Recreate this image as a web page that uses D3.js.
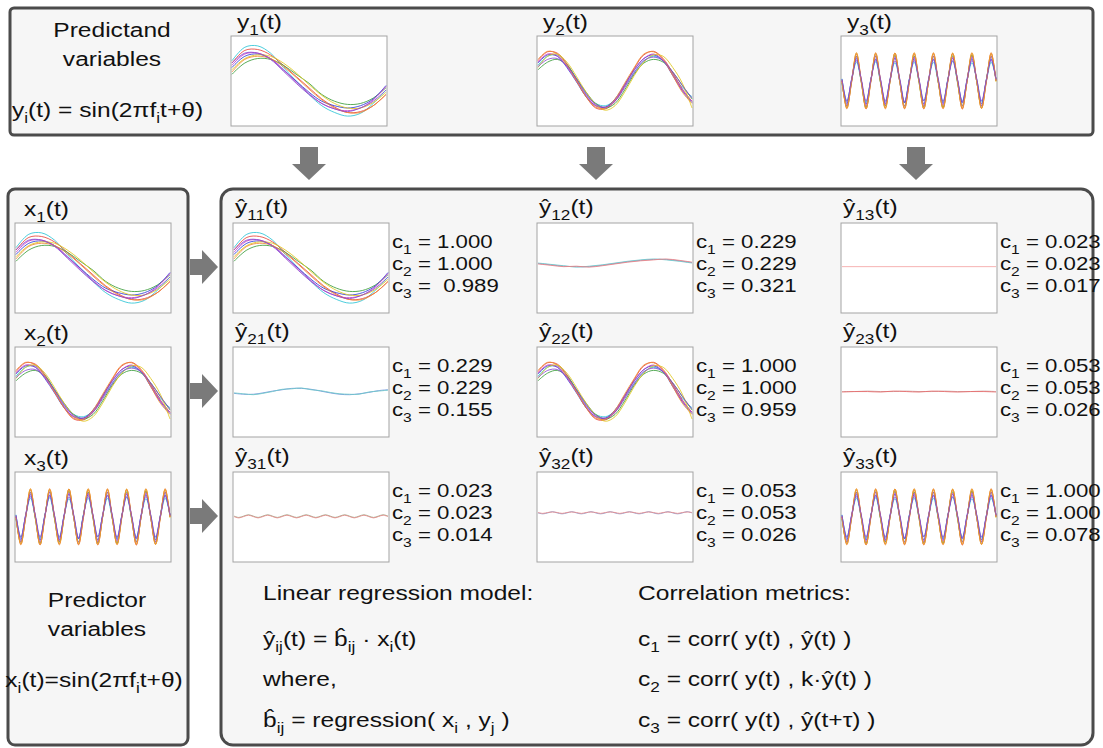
<!DOCTYPE html>
<html>
<head>
<meta charset="utf-8">
<script src="https://cdn.jsdelivr.net/npm/d3@7"></script>
<style>
  body { margin: 0; background: #fff; }
  svg { display: block; font-family: 'Liberation Sans', Arial, sans-serif; }
</style>
</head>
<body>
<svg id="chart" width="1103" height="748"></svg>
<script>
// Signal values (normalised units, one array per series)
const SERIES_COLORS = ['#2ec4d6', '#e8453c', '#3c9e3c', '#2f3fd8', '#c83cc8', '#e0c81e', '#f08a32', '#8a4ad0'];

// slow wave: y1 / x1 / y11
const SIG1 = [
  [0.45, 0.75, 0.78, 0.62, 0.30, 0.00, -0.30, -0.55, -0.70, -0.78, -0.72, -0.50, -0.20],
  [0.40, 0.68, 0.70, 0.58, 0.35, 0.10, -0.15, -0.40, -0.58, -0.70, -0.68, -0.55, -0.30],
  [0.15, 0.40, 0.50, 0.48, 0.35, 0.15, -0.05, -0.30, -0.45, -0.52, -0.50, -0.38, -0.15],
  [0.30, 0.55, 0.60, 0.50, 0.25, 0.00, -0.25, -0.45, -0.55, -0.60, -0.55, -0.40, -0.10],
  [0.35, 0.60, 0.62, 0.50, 0.25, -0.02, -0.28, -0.50, -0.62, -0.66, -0.60, -0.42, -0.12],
  [0.25, 0.50, 0.58, 0.55, 0.40, 0.18, -0.08, -0.32, -0.50, -0.60, -0.60, -0.48, -0.25],
  [0.20, 0.48, 0.55, 0.50, 0.32, 0.08, -0.18, -0.42, -0.60, -0.70, -0.70, -0.55, -0.30],
  [0.40, 0.62, 0.62, 0.48, 0.22, -0.05, -0.30, -0.50, -0.62, -0.68, -0.60, -0.45, -0.20]
];

// medium wave: y2 / x2 / y22
const SIG2 = [
  [0.35, 0.55, 0.58, 0.38, 0.05, -0.30, -0.50, -0.55, -0.42, -0.12, 0.20, 0.45, 0.55, 0.45, 0.15, -0.15, -0.35],
  [0.45, 0.65, 0.62, 0.38, 0.02, -0.35, -0.60, -0.62, -0.45, -0.10, 0.28, 0.58, 0.66, 0.50, 0.18, -0.18, -0.45],
  [0.25, 0.42, 0.48, 0.35, 0.05, -0.25, -0.50, -0.60, -0.50, -0.20, 0.15, 0.40, 0.48, 0.42, 0.20, -0.10, -0.40],
  [0.40, 0.58, 0.55, 0.30, -0.02, -0.35, -0.55, -0.58, -0.40, -0.08, 0.25, 0.50, 0.58, 0.45, 0.12, -0.22, -0.48],
  [0.42, 0.60, 0.56, 0.32, 0.00, -0.32, -0.55, -0.60, -0.42, -0.10, 0.24, 0.50, 0.60, 0.46, 0.14, -0.20, -0.45],
  [0.30, 0.55, 0.60, 0.42, 0.10, -0.25, -0.52, -0.65, -0.55, -0.25, 0.12, 0.42, 0.58, 0.55, 0.30, -0.05, -0.60],
  [0.48, 0.66, 0.60, 0.35, 0.00, -0.35, -0.58, -0.60, -0.40, -0.05, 0.30, 0.60, 0.65, 0.48, 0.12, -0.25, -0.50],
  [0.32, 0.48, 0.50, 0.33, 0.05, -0.28, -0.52, -0.58, -0.45, -0.15, 0.18, 0.45, 0.53, 0.45, 0.20, -0.10, -0.38]
];

// fast wave: y3 / x3 / y33
const SIG3 = [
  [0.05, -0.45, 0.02, 0.42, 0.00, -0.47, 0.04, 0.43, -0.02, -0.45, 0.03, 0.41, 0.01, -0.48, 0.05, 0.42, 0.00, -0.44, 0.02, 0.42, -0.03, -0.46, 0.04, 0.44, 0.00, -0.45, 0.02, 0.41, 0.03, -0.47, 0.00, 0.42, 0.05],
  [0.00, -0.60, -0.03, 0.60, 0.02, -0.62, 0.00, 0.61, -0.02, -0.59, 0.03, 0.62, 0.00, -0.61, -0.02, 0.60, 0.01, -0.62, 0.00, 0.61, -0.03, -0.60, 0.02, 0.61, 0.00, -0.62, 0.01, 0.59, -0.02, -0.60, 0.00, 0.61, 0.02],
  [-0.04, -0.56, 0.00, 0.55, -0.03, -0.58, 0.02, 0.56, -0.04, -0.55, 0.00, 0.57, -0.02, -0.56, 0.03, 0.55, -0.03, -0.57, 0.00, 0.55, -0.02, -0.58, 0.02, 0.56, -0.04, -0.55, 0.00, 0.57, -0.02, -0.56, 0.03, 0.55, 0.00],
  [0.03, -0.50, 0.05, 0.50, 0.02, -0.51, 0.04, 0.49, 0.03, -0.50, 0.05, 0.51, 0.02, -0.49, 0.04, 0.50, 0.03, -0.51, 0.05, 0.49, 0.02, -0.50, 0.04, 0.51, 0.03, -0.49, 0.05, 0.50, 0.02, -0.51, 0.04, 0.49, 0.03],
  [0.00, -0.55, 0.02, 0.54, -0.01, -0.55, 0.02, 0.55, 0.00, -0.53, 0.01, 0.54, -0.02, -0.56, 0.02, 0.53, 0.00, -0.55, 0.01, 0.55, -0.01, -0.54, 0.02, 0.53, 0.00, -0.56, 0.01, 0.54, -0.02, -0.55, 0.02, 0.55, 0.00],
  [-0.02, -0.60, 0.00, 0.62, -0.02, -0.61, 0.01, 0.61, -0.03, -0.60, 0.00, 0.62, -0.02, -0.59, 0.01, 0.62, -0.02, -0.61, 0.00, 0.61, -0.03, -0.60, 0.01, 0.62, -0.02, -0.59, 0.00, 0.62, -0.02, -0.61, 0.01, 0.61, -0.02],
  [0.02, -0.62, 0.00, 0.63, 0.01, -0.61, -0.02, 0.63, 0.02, -0.62, 0.00, 0.62, 0.01, -0.62, -0.02, 0.63, 0.02, -0.61, 0.00, 0.63, 0.01, -0.62, -0.02, 0.62, 0.02, -0.62, 0.00, 0.63, 0.01, -0.61, -0.02, 0.63, 0.00],
  [0.04, -0.45, 0.03, 0.46, 0.05, -0.44, 0.02, 0.47, 0.04, -0.45, 0.03, 0.45, 0.05, -0.46, 0.02, 0.46, 0.04, -0.44, 0.03, 0.47, 0.05, -0.45, 0.02, 0.45, 0.04, -0.46, 0.03, 0.46, 0.05, -0.44, 0.02, 0.47, 0.04]
];

// nearly flat cross predictions
const Y12 = [
  [0.10, 0.07, 0.04, 0.03, 0.03, 0.06, 0.10, 0.14, 0.17, 0.19, 0.19, 0.16, 0.12],
  [0.11, 0.08, 0.05, 0.02, 0.04, 0.07, 0.11, 0.15, 0.18, 0.20, 0.18, 0.15, 0.11],
  [0.09, 0.06, 0.03, 0.04, 0.02, 0.05, 0.09, 0.13, 0.16, 0.18, 0.20, 0.17, 0.13]
];
const Y13 = [[0.03, 0.03]];
const Y21 = [
  [-0.03, -0.05, -0.05, -0.02, 0.02, 0.05, 0.08, 0.08, 0.06, 0.02, -0.02, -0.05, -0.06, -0.04, -0.01, 0.03, 0.05],
  [-0.02, -0.04, -0.06, -0.03, 0.01, 0.06, 0.07, 0.09, 0.05, 0.03, -0.01, -0.04, -0.05, -0.05, 0.00, 0.02, 0.04]
];
const Y23 = [
  [0.01, 0.01, 0.02, 0.01, 0.01, 0.02, 0.01, 0.01, 0.02, 0.01, 0.01, 0.02, 0.01],
  [0.00, 0.01, 0.01, 0.00, 0.02, 0.01, 0.00, 0.02, 0.01, 0.00, 0.01, 0.01, 0.00]
];
const Y31 = [
  [0.02, -0.01, 0.02, 0.05, 0.02, -0.01, 0.02, 0.05, 0.02, -0.01, 0.02, 0.05, 0.02, -0.01, 0.02, 0.05, 0.02, -0.01, 0.02, 0.05, 0.02, -0.01, 0.02, 0.05, 0.02, -0.01, 0.02, 0.05, 0.02, -0.01, 0.02, 0.05, 0.02],
  [0.01, -0.02, 0.01, 0.04, 0.01, -0.02, 0.01, 0.04, 0.01, -0.02, 0.01, 0.04, 0.01, -0.02, 0.01, 0.04, 0.01, -0.02, 0.01, 0.04, 0.01, -0.02, 0.01, 0.04, 0.01, -0.02, 0.01, 0.04, 0.01, -0.02, 0.01, 0.04, 0.01]
];
const Y32 = [
  [0.09, 0.07, 0.09, 0.12, 0.09, 0.07, 0.09, 0.12, 0.09, 0.07, 0.09, 0.12, 0.09, 0.07, 0.09, 0.12, 0.09, 0.07, 0.09, 0.12, 0.09, 0.07, 0.09, 0.12, 0.09, 0.07, 0.09, 0.12, 0.09, 0.07, 0.09, 0.12, 0.09],
  [0.10, 0.08, 0.10, 0.11, 0.10, 0.08, 0.10, 0.11, 0.10, 0.08, 0.10, 0.11, 0.10, 0.08, 0.10, 0.11, 0.10, 0.08, 0.10, 0.11, 0.10, 0.08, 0.10, 0.11, 0.10, 0.08, 0.10, 0.11, 0.10, 0.08, 0.10, 0.11, 0.10]
];

const FLAT_COLORS = ['#6f8fdc', '#6cc8c8', '#ee7f7f'];

const TOP_LABELS = ['y_{1}(t)', 'y_{2}(t)', 'y_{3}(t)'];
const LEFT_LABELS = ['x_{1}(t)', 'x_{2}(t)', 'x_{3}(t)'];
const SIGNALS = [SIG1, SIG2, SIG3];

// prediction grid: row i = predictor x_i, col j = predictand y_j
const PRED = [
  [{series: SIG1, colors: SERIES_COLORS, c: ['1.000', '1.000', ' 0.989']},
   {series: Y12, colors: FLAT_COLORS, c: ['0.229', '0.229', '0.321']},
   {series: Y13, colors: ['#f4a5a5'], c: ['0.023', '0.023', '0.017']}],
  [{series: Y21, colors: FLAT_COLORS, c: ['0.229', '0.229', '0.155']},
   {series: SIG2, colors: SERIES_COLORS, c: ['1.000', '1.000', '0.959']},
   {series: Y23, colors: ['#c8a0a0', '#e86a6a'], c: ['0.053', '0.053', '0.026']}],
  [{series: Y31, colors: ['#9aaa88', '#e88a8a'], c: ['0.023', '0.023', '0.014']},
   {series: Y32, colors: ['#8a9ad0', '#e88a8a'], c: ['0.053', '0.053', '0.026']},
   {series: SIG3, colors: SERIES_COLORS, c: ['1.000', '1.000', '0.078']}]
];

const MODEL_LINES = ['Linear regression model:', 'ŷ_{ij}(t) = b̂_{ij} · x_{i}(t)', 'where,', 'b̂_{ij} = regression( x_{i} , y_{j} )'];
const METRIC_LINES = ['Correlation metrics:', 'c_{1} = corr( y(t) , ŷ(t) )', 'c_{2} = corr( y(t) , k·ŷ(t) )', 'c_{3} = corr( y(t) , ŷ(t+τ) )'];

// ---------------------------------------------------------------
const svg = d3.select('#chart');
const STRETCH = 1.17;   // source figure is stretched horizontally
const BOX_STROKE = '#4b4b4b';

const colX = [233, 537, 841];
const topX = [231, 537, 841];
const rowY = [223, 347, 472];
const plotW = 156, plotH = 90;

// rich text with _{sub} markup
function richText(parent, x, y, str, size, anchor) {
  const t = parent.append('text')
    .attr('transform', `translate(${x},${y}) scale(${STRETCH},1)`)
    .attr('font-size', size)
    .attr('fill', '#111')
    .attr('text-anchor', anchor || 'start');
  const parts = str.split(/_\{([^}]*)\}/);
  const shift = size * 0.3;
  let lowered = false;
  parts.forEach((p, i) => {
    if (p === '') return;
    const sub = i % 2 === 1;
    const ts = t.append('tspan').text(p);
    if (sub) {
      ts.attr('font-size', size * 0.7);
      if (!lowered) { ts.attr('dy', shift); lowered = true; }
    } else if (lowered) {
      ts.attr('dy', -shift);
      lowered = false;
    }
  });
  return t;
}

// rounded frames
function frame(x, y, w, h, r) {
  svg.append('rect')
    .attr('x', x).attr('y', y).attr('width', w).attr('height', h)
    .attr('rx', r).attr('ry', r)
    .attr('fill', '#f6f6f6')
    .attr('stroke', BOX_STROKE)
    .attr('stroke-width', 3);
}
frame(10, 8, 1083, 127, 4);
frame(8, 189, 180, 556, 7);
frame(221, 189, 872, 556, 12);

// a small line-plot panel
function panel(x0, y0, series, colors) {
  const g = svg.append('g');
  g.append('rect')
    .attr('x', x0).attr('y', y0).attr('width', plotW).attr('height', plotH)
    .attr('fill', '#fff')
    .attr('stroke', '#a3a3a3')
    .attr('stroke-width', 1);
  const n = series[0].length;
  const x = d3.scaleLinear().domain([0, n - 1]).range([x0 + 1, x0 + plotW - 1]);
  const y = d3.scaleLinear().domain([-1, 1]).range([y0 + plotH, y0]);
  const line = d3.line()
    .x((d, i) => x(i))
    .y(d => y(d))
    .curve(n > 2 ? d3.curveCatmullRom : d3.curveLinear);
  g.selectAll('path.sig')
    .data(series)
    .enter()
    .append('path')
    .attr('class', 'sig')
    .attr('d', line)
    .attr('fill', 'none')
    .attr('stroke', (d, i) => colors[i % colors.length])
    .attr('stroke-width', 1)
    .attr('stroke-opacity', 0.85);
}

// top row: predictands
richText(svg, 112, 37, 'Predictand', 21, 'middle');
richText(svg, 112, 66, 'variables', 21, 'middle');
richText(svg, 12, 117, 'y_{i}(t) = sin(2πf_{i}t+θ)', 21, 'start');
TOP_LABELS.forEach((lab, j) => {
  richText(svg, topX[j] + 6, 29, lab, 21, 'start');
  panel(topX[j], 36, SIGNALS[j], SERIES_COLORS);
});

// left column: predictors
LEFT_LABELS.forEach((lab, i) => {
  richText(svg, 24, rowY[i] - 7, lab, 21, 'start');
  panel(15, rowY[i], SIGNALS[i], SERIES_COLORS);
});
richText(svg, 97, 607, 'Predictor', 21, 'middle');
richText(svg, 97, 636, 'variables', 21, 'middle');
richText(svg, 94, 687, 'x_{i}(t)=sin(2πf_{i}t+θ)', 21, 'middle');

// prediction grid
PRED.forEach((row, i) => {
  row.forEach((cell, j) => {
    richText(svg, colX[j] + 2, rowY[i] - 9, `ŷ_{${i + 1}${j + 1}}(t)`, 21, 'start');
    panel(colX[j], rowY[i], cell.series, cell.colors);
    cell.c.forEach((v, k) => {
      richText(svg, colX[j] + 159, rowY[i] + 25 + k * 22, `c_{${k + 1}} = ${v}`, 19, 'start')
        .attr('xml:space', 'preserve');
    });
  });
});

// arrows
const ARROW_FILL = '#7a7a7a';
const downArrowX = [309, 596, 916];
downArrowX.forEach(cx => {
  svg.append('path')
    .attr('d', `M${cx - 9},147 H${cx + 9} V164 H${cx + 17} L${cx},180 L${cx - 17},164 H${cx - 9} Z`)
    .attr('fill', ARROW_FILL);
});
rowY.forEach(ry => {
  const cy = ry + 44;
  svg.append('path')
    .attr('d', `M190,${cy - 8} H202 V${cy - 17} L218,${cy} L202,${cy + 17} V${cy + 8} H190 Z`)
    .attr('fill', ARROW_FILL);
});

// explanatory text
const textBase = [600, 646, 686, 727];
MODEL_LINES.forEach((s, k) => richText(svg, 263, textBase[k], s, 21, 'start'));
METRIC_LINES.forEach((s, k) => richText(svg, 638, textBase[k], s, 21, 'start'));
</script>
</body>
</html>
